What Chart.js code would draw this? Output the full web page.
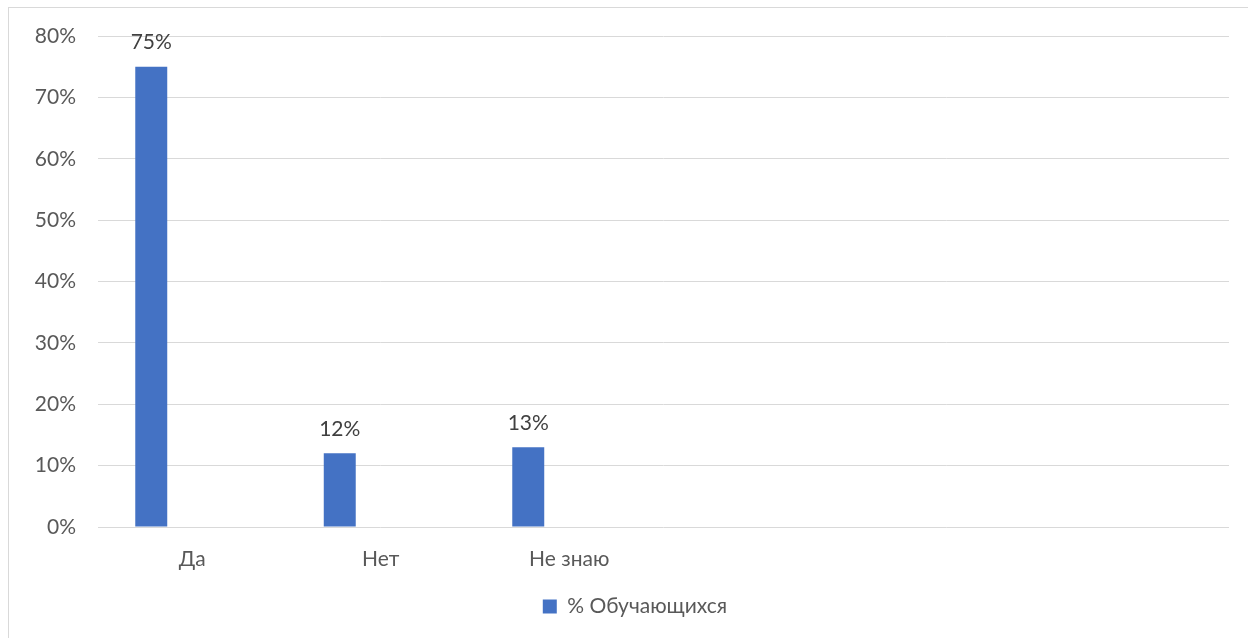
<!DOCTYPE html>
<html>
<head>
<meta charset="utf-8">
<script src="https://cdn.jsdelivr.net/npm/chart.js@4.4.1/dist/chart.umd.min.js"></script>
<style>
  html, body { margin: 0; padding: 0; background: #fff; overflow: hidden; }
  #wrap {
    position: absolute; left: 8px; top: 7px; width: 1240px; height: 631px;
    border-left: 1px solid #d9d9d9; border-top: 1px solid #d9d9d9;
  }
</style>
</head>
<body>
<div id="wrap"><canvas id="chart-1" width="1239" height="630"></canvas></div>
<script>
const categories = ['Да', 'Нет', 'Не знаю', '', '', ''];
const studentValues = [75, 12, 13, null, null, null];
const emptySeries = [null, null, null, null, null, null];
const yTicks = [0, 10, 20, 30, 40, 50, 60, 70, 80];

const textFont = { family: 'Lato', size: 21 };

// data labels above bars
const valueLabels = {
  id: 'valueLabels',
  afterDatasetsDraw(chart) {
    const ctx = chart.ctx;
    const meta = chart.getDatasetMeta(0);
    ctx.save();
    ctx.font = '21px Lato';
    ctx.fillStyle = '#404040';
    ctx.textAlign = 'center';
    ctx.textBaseline = 'middle';
    meta.data.forEach((bar, i) => {
      const v = studentValues[i];
      if (v === null) return;
      ctx.fillText(v + '%', bar.x, bar.y - 24);
    });
    ctx.restore();
  }
};

// legend sits a bit right of the canvas centre in the original
const legendShift = {
  id: 'legendShift',
  afterLayout(chart) { chart.legend.left += 32; }
};

const cData = {
  labels: categories,
  datasets: [{
    label: '% Обучающихся',
    backgroundColor: '#4472c4',
    data: studentValues,
    categoryPercentage: 0.87,
    barPercentage: 0.39
  }, {
    label: '',
    backgroundColor: '#ed7d31',
    data: emptySeries,
    categoryPercentage: 0.87,
    barPercentage: 0.39
  }]
};

const cConfig = {
  type: 'bar',
  data: cData,
  options: {
    responsive: false,
    animation: false,
    layout: { padding: { top: 28, right: 19, bottom: 11, left: 0 } },
    plugins: {
      tooltip: { enabled: false },
      legend: {
        position: 'bottom',
        labels: {
          filter: item => item.text !== '',
          boxWidth: 14,
          boxHeight: 14,
          color: '#595959',
          font: textFont,
          padding: 16
        }
      }
    },
    scales: {
      x: {
        grid: { display: false, drawTicks: false },
        border: { display: false },
        ticks: { color: '#595959', font: textFont, padding: 20, maxRotation: 0 },
        afterFit: s => { s.height = 53; }
      },
      y: {
        min: 0,
        max: 80,
        afterBuildTicks: s => { s.ticks = yTicks.map(v => ({ value: v })); },
        grid: { color: '#d9d9d9', lineWidth: 1, drawTicks: false },
        border: { display: false },
        ticks: { color: '#595959', font: textFont, padding: 22, callback: v => v + '%' },
        afterFit: s => { s.width = 89; s.paddingTop = 0; s.paddingBottom = 0; }
      }
    }
  },
  plugins: [valueLabels, legendShift]
};

const chart1 = new Chart(document.getElementById('chart-1'), cConfig);
</script>
</body>
</html>
